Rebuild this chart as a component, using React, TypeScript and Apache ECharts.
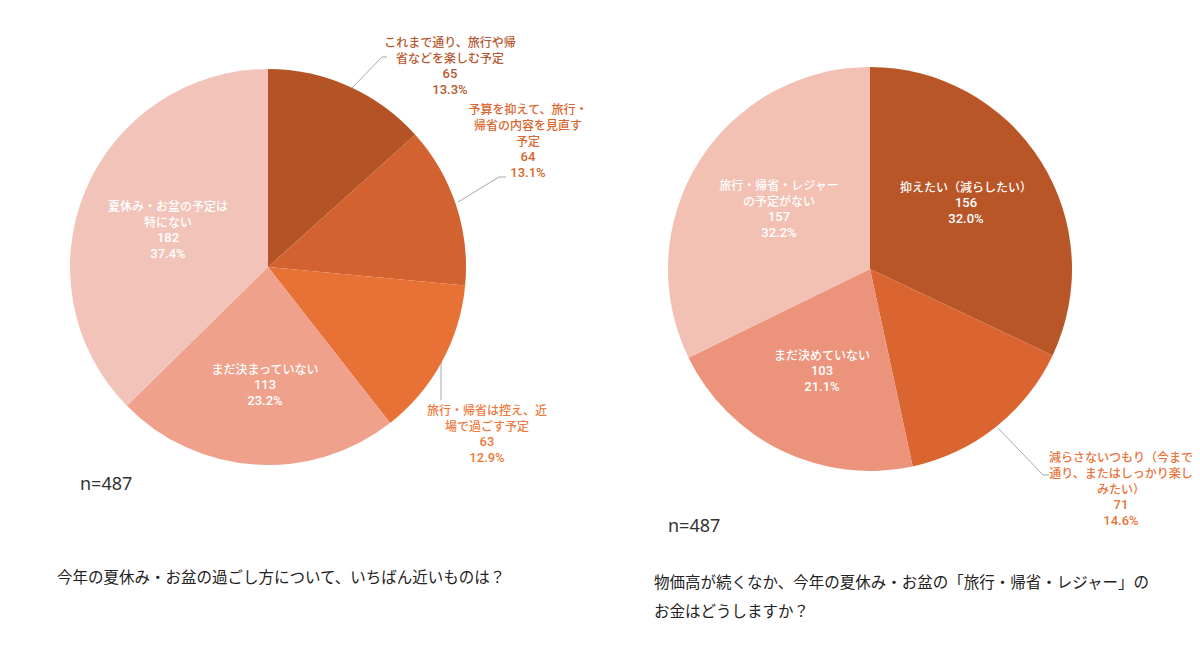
import React, { useEffect, useRef } from "react";
import * as echarts from "echarts";

const leftCategories = [
  "これまで通り、旅行や帰\n省などを楽しむ予定",
  "予算を抑えて、旅行・\n帰省の内容を見直す\n予定",
  "旅行・帰省は控え、近\n場で過ごす予定",
  "まだ決まっていない",
  "夏休み・お盆の予定は\n特にない",
];
const leftValues = [65, 64, 63, 113, 182];
const leftPercents = ["13.3%", "13.1%", "12.9%", "23.2%", "37.4%"];
const leftColors = ["#B35326", "#D2622F", "#E87136", "#EFA18B", "#F2C3B9"];
const leftLabelColors = ["#B55A30", "#D9662E", "#EE7A3C", "#ffffff", "#ffffff"];

const rightCategories = [
  "抑えたい（減らしたい）",
  "減らさないつもり（今まで\n通り、またはしっかり楽し\nみたい）",
  "まだ決めていない",
  "旅行・帰省・レジャー\nの予定がない",
];
const rightValues = [156, 71, 103, 157];
const rightPercents = ["32.0%", "14.6%", "21.1%", "32.2%"];
const rightColors = ["#B95628", "#DB6530", "#EC937B", "#F2C1B4"];
const rightLabelColors = ["#ffffff", "#E8733A", "#ffffff", "#ffffff"];

const sampleText = "n=487";
const leftTitle = "今年の夏休み・お盆の過ごし方について、いちばん近いものは？";
const rightTitle = "物価高が続くなか、今年の夏休み・お盆の「旅行・帰省・レジャー」の\nお金はどうしますか？";

const FONT = "'Noto Sans CJK JP', 'Noto Sans', sans-serif";
const NUMFONT = "Roboto, 'Noto Sans', sans-serif";

export default function App() {
  const ref = useRef<HTMLDivElement>(null);
  useEffect(() => {
    document.body.style.margin = "0";
    if (!ref.current) return;
    const chart = echarts.init(ref.current, null, { renderer: "svg" });

    const leftLayout: any[] = [
      { x: 450, y: 65, line: [[352, 88], [382, 57], [387, 57]] },
      { x: 528, y: 140, line: [[458, 202], [499, 177], [506, 177]] },
      { x: 487, y: 433, line: [[441, 357], [441, 398], [441, 400]] },
      { x: 265, y: 384 },
      { x: 168, y: 229 },
    ];
    const rightLayout: any[] = [
      { x: 966, y: 202 },
      { x: 1121, y: 488, line: [[998, 428], [1043, 475], [1049, 475]] },
      { x: 822, y: 370 },
      { x: 779, y: 208 },
    ];

    const mkData = (cats: string[], vals: number[], cols: string[], lcols: string[], pcts: string[], layout: any[]) =>
      cats.map((c, i) => ({
        name: c,
        value: vals[i],
        itemStyle: { color: cols[i] },
        label: {
          position: layout[i].line ? "outside" : "inside",
          color: lcols[i],
          formatter: () =>
            c
              .split("\n")
              .map((s) => `{n|${s}}`)
              .join("\n") + `\n{v|${vals[i]}}\n{v|${pcts[i]}}`,
          rich: {
            n: { fontFamily: FONT, fontSize: 12, fontWeight: 500, lineHeight: 16, color: lcols[i] },
            v: { fontFamily: NUMFONT, fontSize: 13, fontWeight: 500, lineHeight: 16, color: lcols[i] },
          },
        },
        labelLine: { show: !!layout[i].line, lineStyle: { color: "#a8a8a8", width: 1 } },
      }));

    const labelLayoutFn = (layout: any[]) => (params: any) => {
      const l = layout[params.dataIndex];
      const r: any = { x: l.x, y: l.y, align: "center", verticalAlign: "middle" };
      if (l.line) r.labelLinePoints = l.line;
      return r;
    };

    chart.setOption({
      animation: false,
      backgroundColor: "#ffffff",
      series: [
        {
          type: "pie",
          center: [268, 267],
          radius: [0, 198],
          startAngle: 90,
          clockwise: true,
          avoidLabelOverlap: false,
          label: { show: true, fontFamily: FONT, fontSize: 12, align: "center" },
          labelLayout: labelLayoutFn(leftLayout),
          data: mkData(leftCategories, leftValues, leftColors, leftLabelColors, leftPercents, leftLayout),
        },
        {
          type: "pie",
          center: [870, 269],
          radius: [0, 202],
          startAngle: 90,
          clockwise: true,
          avoidLabelOverlap: false,
          label: { show: true, fontFamily: FONT, fontSize: 12, align: "center" },
          labelLayout: labelLayoutFn(rightLayout),
          data: mkData(rightCategories, rightValues, rightColors, rightLabelColors, rightPercents, rightLayout),
        },
      ],
      graphic: [
        { type: "text", left: 80, top: 474, style: { text: sampleText, fontFamily: "'Noto Sans', sans-serif", fontSize: 18, fill: "#333" } },
        { type: "text", left: 668, top: 516, style: { text: sampleText, fontFamily: "'Noto Sans', sans-serif", fontSize: 18, fill: "#333" } },
        { type: "text", left: 57, top: 568, style: { text: leftTitle, fontFamily: FONT, fontSize: 15.5, fill: "#222" } },
        { type: "text", left: 654, top: 566, style: { text: rightTitle, fontFamily: FONT, fontSize: 15.5, lineHeight: 29, fill: "#222" } },
      ],
    });
    return () => chart.dispose();
  }, []);
  return <div ref={ref} style={{ width: 1200, height: 660 }} />;
}
